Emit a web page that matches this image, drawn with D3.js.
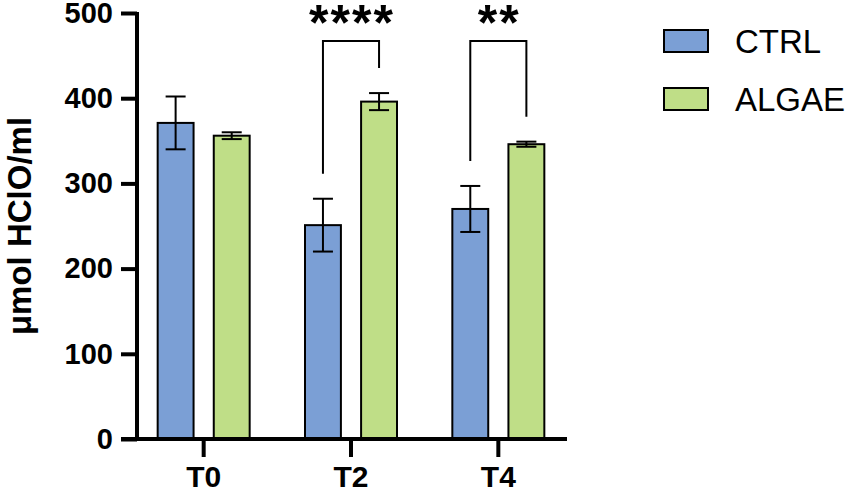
<!DOCTYPE html>
<html>
<head>
<meta charset="utf-8">
<script src="https://cdn.jsdelivr.net/npm/d3@7"></script>
<style>
  body { margin: 0; background: #fff; }
  svg { font-family: "Liberation Sans", Arial, sans-serif; }
</style>
</head>
<body>
<svg id="chart"></svg>
<script>
const categories = ["T0", "T2", "T4"]
const groups = ["CTRL", "ALGAE"]
const ctrlMean = [371, 251, 270]
const ctrlErr = [31, 31, 27]
const algaeMean = [356, 396, 346]
const algaeErr = [4, 10, 3]
const yTicks = [0, 100, 200, 300, 400, 500]
const comparisons = [
    { cat: "T2", label: "****" },
    { cat: "T4", label: "**" }
]

const colors = { CTRL: "#7b9fd5", ALGAE: "#bfde87" }

const width = 851, height = 493
const margin = { top: 13, left: 137, bottom: 54, right: 284 }

const svg = d3.select("#chart")
    .attr("width", width)
    .attr("height", height)

const data = categories.map((c, i) => ({
    cat: c,
    values: [
        { group: "CTRL", mean: ctrlMean[i], err: ctrlErr[i] },
        { group: "ALGAE", mean: algaeMean[i], err: algaeErr[i] }
    ]
}))

const xScale = d3.scaleBand()
    .domain(categories)
    .range([margin.left - 7, width - margin.right + 5])

const xSub = d3.scaleBand()
    .domain(groups)
    .range([xScale.bandwidth() / 2 - 46, xScale.bandwidth() / 2 + 46])
    .paddingInner(0.36)

const yScale = d3.scaleLinear()
    .domain([0, 500])
    .range([height - margin.bottom, margin.top])

// bars
const grp = svg.append("g").selectAll("g")
    .data(data)
    .join("g")
    .attr("transform", d => `translate(${xScale(d.cat)}, 0)`)

grp.selectAll("rect")
    .data(d => d.values)
    .join("rect")
    .attr("x", d => xSub(d.group))
    .attr("width", xSub.bandwidth())
    .attr("y", d => yScale(d.mean))
    .attr("height", d => yScale(0) - yScale(d.mean))
    .attr("fill", d => colors[d.group])
    .attr("stroke", "#000")
    .attr("stroke-width", 2)

// error bars
const eb = grp.selectAll(".err")
    .data(d => d.values)
    .join("g")
    .attr("class", "err")
    .attr("transform", d => `translate(${xSub(d.group) + xSub.bandwidth() / 2}, 0)`)
    .attr("stroke", "#000")
    .attr("stroke-width", 2)

eb.append("line")
    .attr("y1", d => yScale(d.mean + d.err))
    .attr("y2", d => yScale(d.mean - d.err))
eb.append("line")
    .attr("x1", -10).attr("x2", 10)
    .attr("y1", d => yScale(d.mean + d.err))
    .attr("y2", d => yScale(d.mean + d.err))
eb.append("line")
    .attr("x1", -10).attr("x2", 10)
    .attr("y1", d => yScale(d.mean - d.err))
    .attr("y2", d => yScale(d.mean - d.err))

// axes
const yAxis = svg.append("g")
    .attr("transform", `translate(${margin.left}, 0)`)
    .call(d3.axisLeft(yScale).tickValues(yTicks).tickSize(16).tickPadding(8).tickSizeOuter(0))
yAxis.select(".domain").attr("stroke-width", 4).attr("d", `M0,${yScale(500) - 1}V${yScale(0) + 2}`)
yAxis.selectAll(".tick line").attr("stroke-width", 4)
yAxis.selectAll("text")
    .attr("font-size", 29).attr("font-weight", "bold").attr("fill", "#000")
    .attr("font-family", "Liberation Sans, Arial, sans-serif")

const xAxis = svg.append("g")
    .attr("transform", `translate(0, ${yScale(0)})`)
    .call(d3.axisBottom(xScale).tickSize(18).tickPadding(9).tickSizeOuter(0))
xAxis.select(".domain").attr("stroke-width", 4).attr("d", `M${margin.left - 16},0H567`)
xAxis.selectAll(".tick line").attr("stroke-width", 4)
xAxis.selectAll("text")
    .attr("font-size", 30).attr("font-weight", "bold").attr("fill", "#000")
    .attr("font-family", "Liberation Sans, Arial, sans-serif")

svg.append("text")
    .attr("transform", `translate(31, ${(yScale(0) + yScale(500)) / 2}) rotate(-90)`)
    .attr("text-anchor", "middle")
    .attr("font-size", 33)
    .attr("font-weight", "bold")
    .text("μmol HClO/ml")

// significance brackets
comparisons.forEach(c => {
    const d = data.find(v => v.cat === c.cat)
    const x0 = xScale(c.cat) + xSub("CTRL") + xSub.bandwidth() / 2
    const x1 = xScale(c.cat) + xSub("ALGAE") + xSub.bandwidth() / 2
    const top = 41
    const yl = yScale(d.values[0].mean + d.values[0].err) - 25
    const yr = yScale(d.values[1].mean + d.values[1].err) - 25
    svg.append("path")
        .attr("d", `M${x0},${yl}V${top}H${x1}V${yr}`)
        .attr("fill", "none")
        .attr("stroke", "#000")
        .attr("stroke-width", 2)
    svg.append("text")
        .attr("x", (x0 + x1) / 2 + 1)
        .attr("y", 40)
        .attr("text-anchor", "middle")
        .attr("font-size", 50)
        .attr("font-weight", "bold")
        .attr("letter-spacing", 2)
        .text(c.label)
})

// legend
const legend = svg.append("g")
    .selectAll("g")
    .data(groups)
    .join("g")
    .attr("transform", (d, i) => `translate(664, ${30 + i * 58})`)

legend.append("rect")
    .attr("width", 44)
    .attr("height", 22)
    .attr("fill", d => colors[d])
    .attr("stroke", "#000")
    .attr("stroke-width", 2)

legend.append("text")
    .attr("x", 71)
    .attr("y", 11)
    .attr("dy", "0.36em")
    .attr("font-size", 33)
    .text(d => d)
</script>
</body>
</html>
